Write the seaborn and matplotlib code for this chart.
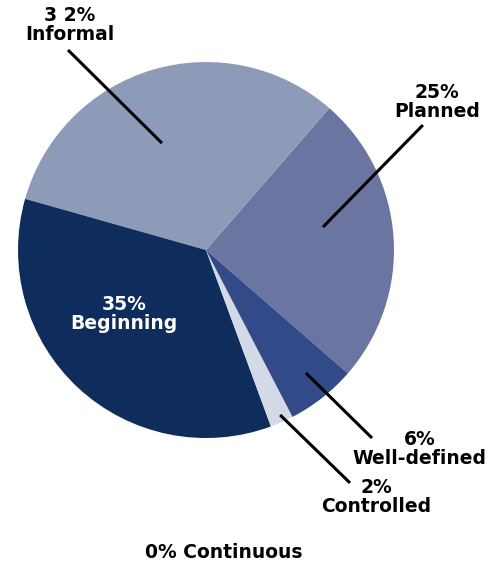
import numpy as np
import matplotlib
matplotlib.use("Agg")
import matplotlib.pyplot as plt
import seaborn as sns

# slice data, counter-clockwise from the Planned slice
stages = ["Planned", "Informal", "Beginning", "Controlled", "Well-defined"]
shares = [25, 32, 35, 2, 6]
pct_text = ["25%", "3 2%", "35%", "2%", "6%"]
colors = ["#6a76a1", "#8e9bb8", "#0f2d5c", "#d3d9e6", "#334a88"]

sns.set_theme(style="white")
plt.rcParams["font.family"] = ["DejaVu Sans"]

fig = plt.figure(figsize=(5.0, 5.67), dpi=100)
ax = fig.add_axes([0.036, 0.2275, 0.752, 0.6631])

wedges, _ = ax.pie(shares, colors=colors, startangle=-41, counterclock=True,
                   wedgeprops=dict(linewidth=0))
ax.set_xlim(-1, 1)
ax.set_ylim(-1, 1)
ax.set_aspect("equal")
ax.axis("off")

# label placement (data units, pie radius = 1)
text_pos = {
    "Planned": (1.229, 0.787),
    "Informal": (-0.723, 1.197),
    "Beginning": (-0.436, -0.340),
    "Controlled": (0.904, -1.314),
    "Well-defined": (1.138, -1.059),
}
# leader lines: (angle, radius) inside the slice -> outer end point
anchor = {
    "Planned": (11.1, 0.634),
    "Informal": (112.4, 0.615),
    "Controlled": (-65.8, 0.962),
    "Well-defined": (-50.9, 0.843),
}
line_end = {
    "Planned": (1.154, 0.665),
    "Informal": (-0.734, 1.064),
    "Controlled": (0.766, -1.239),
    "Well-defined": (0.883, -1.0),
}

for name, pct in zip(stages, pct_text):
    label = f"{pct}\n{name}"
    tx, ty = text_pos[name]
    col = "white" if name == "Beginning" else "black"
    ax.text(tx, ty, label, ha="center", va="center", fontsize=13.5,
            fontweight="heavy", color=col, linespacing=0.98)
    if name in anchor:
        ang, r = anchor[name]
        x0 = r * np.cos(np.radians(ang))
        y0 = r * np.sin(np.radians(ang))
        x1, y1 = line_end[name]
        ax.plot([x0, x1], [y0, y1], color="black", lw=2.2, clip_on=False,
                solid_capstyle="butt")

fig.text(0.448, 0.0247, "0% Continuous", ha="center", va="center",
         fontsize=13.5, fontweight="heavy", color="black")

fig.savefig("out.png", dpi=100, facecolor="white")
